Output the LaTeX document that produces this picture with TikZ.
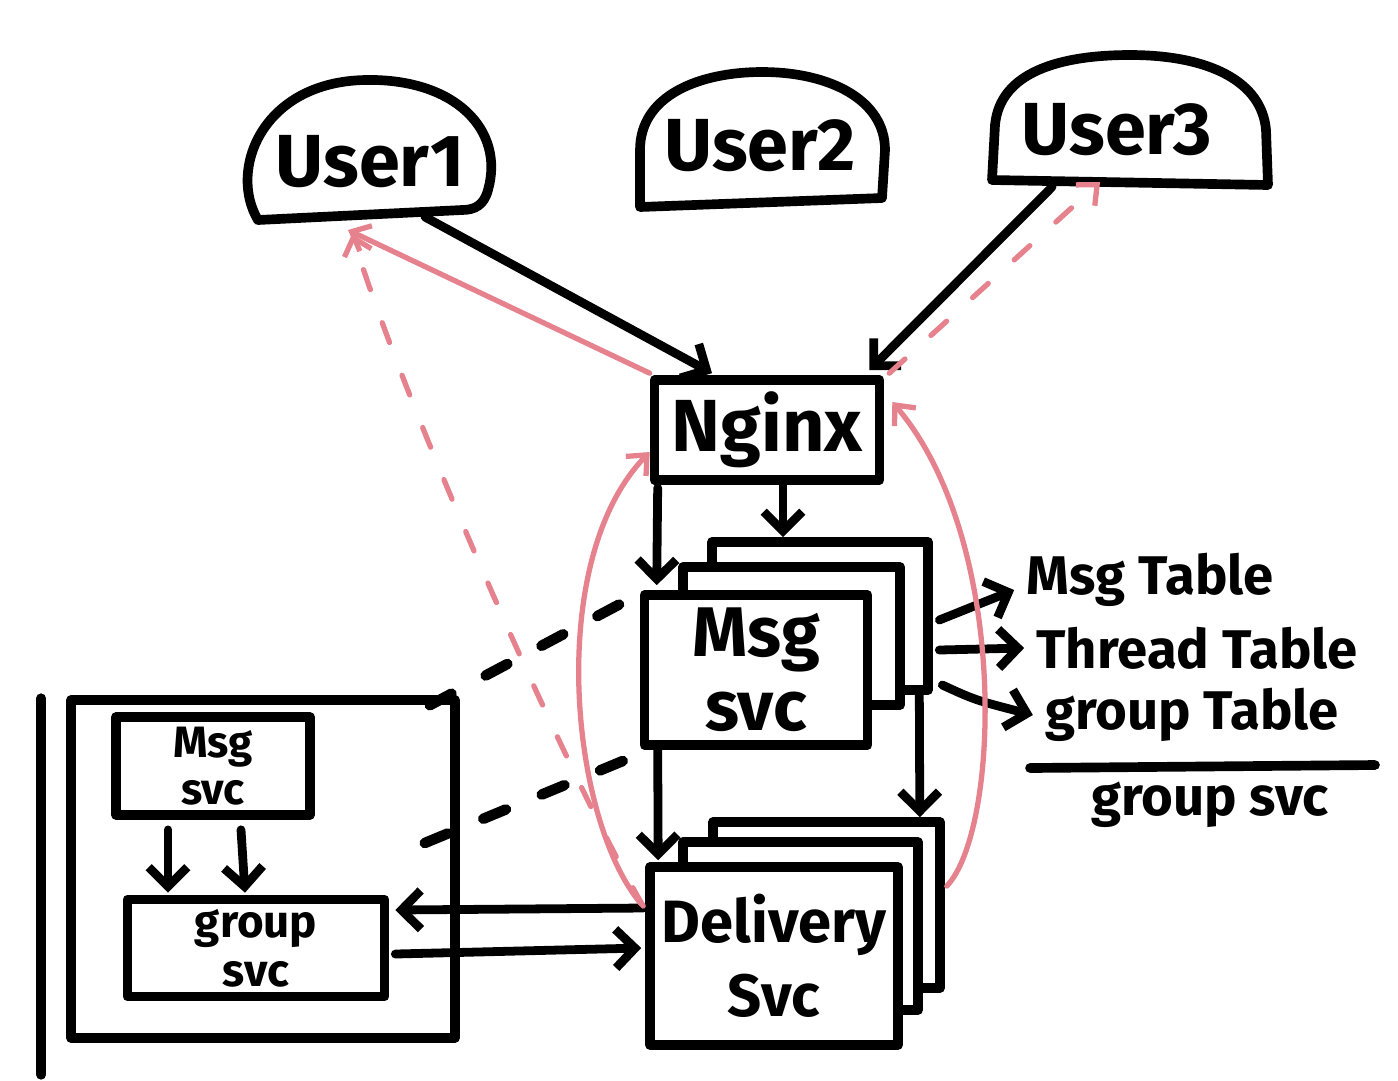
\documentclass[tikz,border=0pt]{standalone}
\usepackage{fontspec}
\setmainfont{Fira Sans}
\usetikzlibrary{arrows.meta,calc}
\definecolor{pinkink}{RGB}{230,130,142}
\begin{document}
\begin{tikzpicture}[x=0.02cm,y=-0.02cm,
  ink/.style={line width=5.5pt,line cap=round,line join=round,black},
  conn/.style={line width=5pt,line cap=round,line join=round,black,-{Straight Barb[length=11pt,width=22pt]}},
  bdash/.style={line width=6pt,line cap=round,black,dash pattern=on 14pt off 22pt},
  pinkl/.style={pinkink,line width=3pt,line cap=round},
  pinka/.style={pinkl,-{Straight Barb[length=9pt,width=16pt]}},
  pdash/.style={dash pattern=on 12pt off 20pt},
  box/.style={draw,line width=5.5pt,line join=round,rectangle,inner sep=0pt,align=center},
  hw/.style={inner sep=0pt,align=center},
  big/.style={font=\fontsize{42}{46}\selectfont\bfseries},
  side/.style={font=\fontsize{31}{34}\selectfont\bfseries}
]
\fill[white] (0,0) rectangle (1398,1080);
\useasboundingbox (0,0) rectangle (1398,1080);

% users (domes)
\draw[ink] (258,220) .. controls (228,170) and (262,82) .. (365,80) .. controls (455,78) and (505,130) .. (488,190) .. controls (484,205) and (475,210) .. (462,210) -- cycle;
\draw[ink] (640,207) -- (640,150) .. controls (640,95) and (700,72) .. (762,72) .. controls (830,72) and (885,100) .. (885,150) -- (882,198) -- cycle;
\draw[ink] (992,180) -- (995,125) .. controls (1000,72) and (1060,55) .. (1130,55) .. controls (1210,55) and (1262,82) .. (1266,130) -- (1268,185) -- cycle;
\node[hw,big] (u1) at (370,162) {User1};
\node[hw,big] (u2) at (760,146) {User2};
\node[hw,big] (u3) at (1117,130) {User3};

% nginx
\node[box,big,minimum width=4.5cm,minimum height=2cm] (ngx) at (767,430) {Nginx};

% msg svc stack
\draw[ink] (683,595) -- (683,567) -- (900,567) -- (900,705) -- (868,705);
\draw[ink] (712,567) -- (712,542) -- (928,542) -- (928,690) -- (900,690);
\node[box,font=\fontsize{40}{42}\selectfont\bfseries,minimum width=4.46cm,minimum height=3cm] (msg) at (756,670) {Msg\\svc};

% delivery stack
\draw[ink] (683,867) -- (683,842) -- (918,842) -- (918,1010) -- (898,1010);
\draw[ink] (713,842) -- (713,822) -- (940,822) -- (940,988) -- (918,988);
\node[box,font=\fontsize{34}{42}\selectfont\bfseries,minimum width=4.96cm,minimum height=3.56cm] (dlv) at (774,956) {Delivery\\Svc};

% group service area
\node[box,minimum width=7.68cm,minimum height=6.76cm] (og) at (263,869) {};
\draw[ink] ($(og.north west)+(-25,3)$) -- ($(og.south west)+(-25,32)$);
\node[box,font=\fontsize{25}{27}\selectfont\bfseries,minimum width=3.88cm,minimum height=1.96cm] (sm) at (213,766) {Msg\\svc};
\node[box,font=\fontsize{26}{28}\selectfont\bfseries,minimum width=5.14cm,minimum height=1.94cm] (grp) at (256,948) {group\\svc};

% tables
\node[hw,side] (t1) at (1150,580) {Msg Table};
\node[hw,side] (t2) at (1197,648) {Thread Table};
\node[hw,side] (t3) at (1192,715) {group Table};
\coordinate (sepL) at (1030,768);
\coordinate (sepR) at (1375,765);
\draw[ink] (sepL) -- (sepR);
\node[hw,side] (gsv) at (1210,805) {group svc};

% black connectors
\draw[conn] ($(u1)+(55,55)$) -- ($(ngx.north)+(-55,-2)$);
\draw[conn] ($(u3)+(-65,57)$) -- ($(ngx.north east)+(-15,-5)$);
\draw[conn] ($(ngx.south)+(16,0)$) -- ($(msg.north)+(27,-53)$);
\draw[conn] ($(ngx.south west)+(8,3)$) -- ($(msg.north west)+(17,-5)$);
\draw[conn] ($(msg.south west)+(18,0)$) -- ($(dlv.north west)+(13,-2)$);
\draw[conn] ($(msg.south east)+(47,-55)$) -- ($(dlv.north east)+(17,-45)$);
\draw[conn] ($(msg.east)+(67,-50)$) -- ($(t1.west)+(-12,10)$);
\draw[conn] ($(msg.east)+(67,-20)$) -- ($(t2.west)+(-12,0)$);
\draw[conn] ($(msg.east)+(70,15)$) .. controls (975,700) .. ($(t3.west)+(-12,0)$);
\draw[conn] ($(dlv.west)+(-2,-48)$) -- ($(grp.east)+(6,-38)$);
\draw[conn] ($(grp.east)+(6,6)$) -- ($(dlv.west)+(-4,-8)$);
\draw[conn] ($(sm.south)+(-45,10)$) -- ($(grp.north)+(-88,-2)$);
\draw[conn] ($(sm.south)+(28,10)$) -- ($(grp.north)+(-11,-2)$);
\draw[bdash] ($(og.north east)+(-30,10)$) -- ($(msg.north west)+(12,-3)$);
\draw[bdash] ($(og.east)+(-35,-26)$) -- ($(msg.south west)+(10,0)$);

% pink (response) connectors
\draw[pinka] ($(ngx.north west)+(0,-2)$) -- ($(u1)+(-22,68)$);
\draw[pinka,pdash] ($(dlv.west)+(-2,-50)$) .. controls (575,790) and (410,420) .. ($(u1)+(-18,72)$);
\draw[pinka] ($(dlv.west)+(-4,-52)$) .. controls (570,820) and (545,560) .. ($(ngx.west)+(0,22)$);
\draw[pinka] ($(dlv.east)+(44,-70)$) .. controls (1000,830) and (1010,540) .. ($(ngx.east)+(8,-28)$);
\draw[pinka,pdash] ($(ngx.north east)+(5,-2)$) -- ($(u3)+(-17,52)$);
\end{tikzpicture}
\end{document}
